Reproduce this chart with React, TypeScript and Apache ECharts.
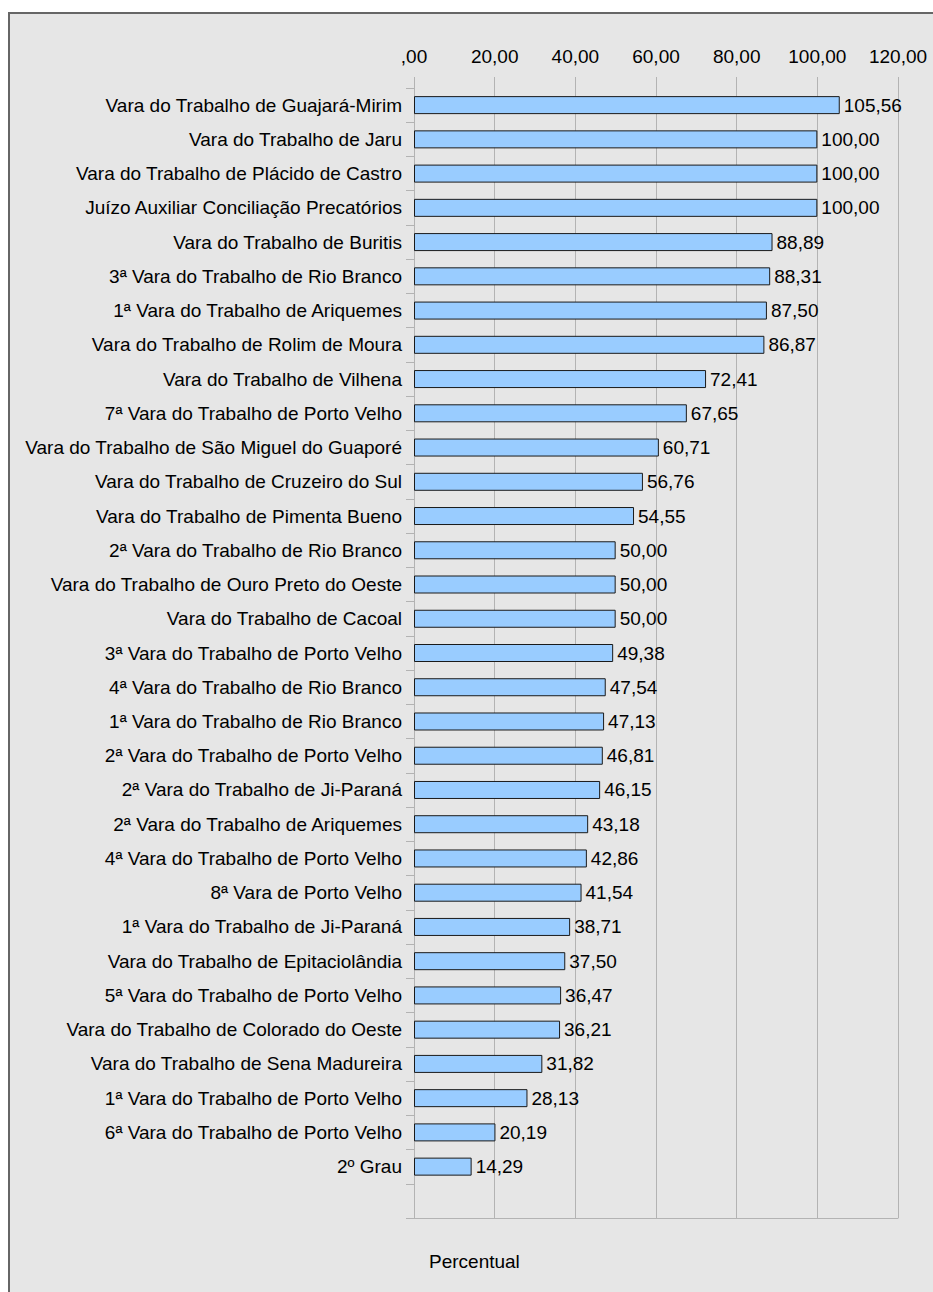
import React, { useEffect, useRef } from "react";
import * as echarts from "echarts";

const categories: string[] = [
  "Vara do Trabalho de Guajará-Mirim",
  "Vara do Trabalho de Jaru",
  "Vara do Trabalho de Plácido de Castro",
  "Juízo Auxiliar Conciliação Precatórios",
  "Vara do Trabalho de Buritis",
  "3ª Vara do Trabalho de Rio Branco",
  "1ª Vara do Trabalho de Ariquemes",
  "Vara do Trabalho de Rolim de Moura",
  "Vara do Trabalho de Vilhena",
  "7ª Vara do Trabalho de Porto Velho",
  "Vara do Trabalho de São Miguel do Guaporé",
  "Vara do Trabalho de Cruzeiro do Sul",
  "Vara do Trabalho de Pimenta Bueno",
  "2ª Vara do Trabalho de Rio Branco",
  "Vara do Trabalho de Ouro Preto do Oeste",
  "Vara do Trabalho de Cacoal",
  "3ª Vara do Trabalho de Porto Velho",
  "4ª Vara do Trabalho de Rio Branco",
  "1ª Vara do Trabalho de Rio Branco",
  "2ª Vara do Trabalho de Porto Velho",
  "2ª Vara do Trabalho de Ji-Paraná",
  "2ª Vara do Trabalho de Ariquemes",
  "4ª Vara do Trabalho de Porto Velho",
  "8ª Vara de Porto Velho",
  "1ª Vara do Trabalho de Ji-Paraná",
  "Vara do Trabalho de Epitaciolândia",
  "5ª Vara do Trabalho de Porto Velho",
  "Vara do Trabalho de Colorado do Oeste",
  "Vara do Trabalho de Sena Madureira",
  "1ª Vara do Trabalho de Porto Velho",
  "6ª Vara do Trabalho de Porto Velho",
  "2º Grau",
];

const percentual: number[] = [
  105.56, 100.0, 100.0, 100.0, 88.89, 88.31, 87.5, 86.87, 72.41, 67.65, 60.71,
  56.76, 54.55, 50.0, 50.0, 50.0, 49.38, 47.54, 47.13, 46.81, 46.15, 43.18,
  42.86, 41.54, 38.71, 37.5, 36.47, 36.21, 31.82, 28.13, 20.19, 14.29,
];

const axisMin = 0;
const axisMax = 120;
const axisStep = 20;
const axisTitle = "Percentual";

const FONT = "'Liberation Sans Narrow', 'Arial Narrow', 'Liberation Sans', sans-serif";
const FS = 19;
const GRID = "#b3b3b3";

const fmt = (v: number) => {
  const s = Number(v).toFixed(2).replace(".", ",");
  return s.startsWith("0,") ? s.slice(1) : s;
};

export default function App() {
  const ref = useRef<HTMLDivElement>(null);
  useEffect(() => {
    if (!ref.current) return;
    const chart = echarts.init(ref.current, undefined, { renderer: "svg" });
    chart.setOption({
      animation: false,
      backgroundColor: "#e6e6e6",
      textStyle: { fontFamily: FONT },
      grid: {
        left: 404,
        top: 74,
        width: 484,
        height: 1130,
        containLabel: false,
        outerBoundsMode: "none",
      },
      xAxis: [
        {
          type: "value",
          position: "top",
          min: axisMin,
          max: axisMax,
          interval: axisStep,
          axisLine: { show: false },
          axisTick: { show: true, length: 11, lineStyle: { color: GRID } },
          splitLine: { show: true, lineStyle: { color: GRID, width: 1 } },
          axisLabel: {
            formatter: (v: number) => fmt(v),
            fontSize: FS,
            color: "#000",
            fontFamily: FONT,
            margin: 22,
          },
        },
        {
          type: "value",
          position: "bottom",
          min: axisMin,
          max: axisMax,
          interval: axisStep,
          axisLine: { show: true, lineStyle: { color: GRID, width: 1 } },
          axisTick: { show: false },
          splitLine: { show: false },
          axisLabel: { show: false },
        },
      ],
      yAxis: {
        type: "category",
        inverse: true,
        data: [...categories, ""],
        axisLine: { show: true, lineStyle: { color: GRID, width: 1 } },
        axisTick: { show: true, length: 8, lineStyle: { color: GRID } },
        axisLabel: {
          fontSize: FS,
          color: "#000",
          fontFamily: FONT,
          margin: 12,
          interval: 0,
        },
      },
      series: [
        {
          type: "bar",
          xAxisIndex: 0,
          data: [...percentual, "-"],
          barWidth: 18,
          itemStyle: { color: "#99ccff", borderColor: "#1a1a1a", borderWidth: 1 },
          label: {
            show: true,
            position: "right",
            distance: 4,
            fontSize: FS,
            color: "#000",
            fontFamily: FONT,
            formatter: (p: any) => fmt(p.value),
          },
        },
      ],
      graphic: [
        {
          type: "text",
          x: 419,
          y: 1247,
          style: {
            text: axisTitle,
            fontSize: FS,
            fill: "#000",
            fontFamily: FONT,
            textVerticalAlign: "middle",
          },
        },
      ],
    });
    return () => chart.dispose();
  }, []);
  return (
    <div
      style={{
        position: "absolute",
        left: 8,
        top: 12,
        borderLeft: "2px solid #666",
        borderTop: "2px solid #666",
        background: "#e6e6e6",
        width: 923,
        height: 1278,
      }}
    >
      <div ref={ref} style={{ width: 923, height: 1278 }} />
    </div>
  );
}
